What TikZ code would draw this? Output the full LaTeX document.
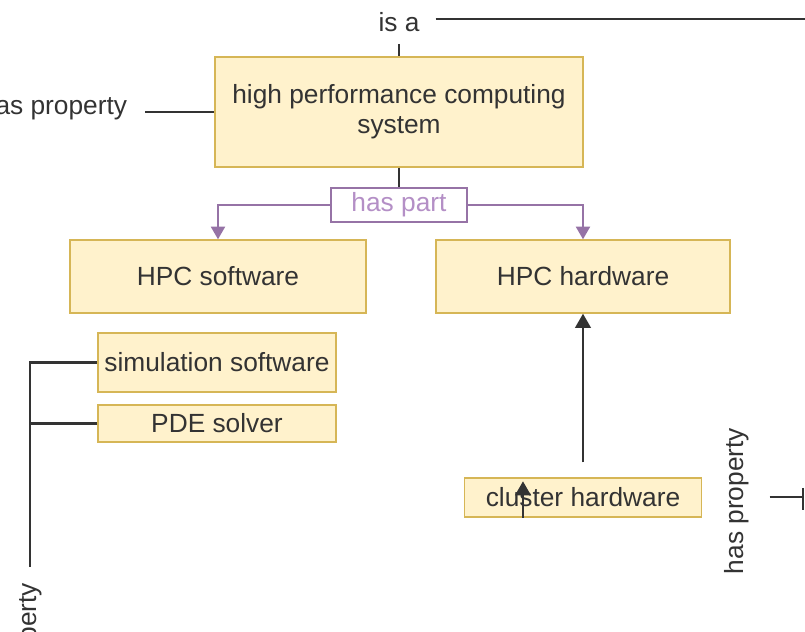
\documentclass[tikz,border=0pt]{standalone}
\usepackage{fontspec}
\setmainfont{Liberation Sans}
\usetikzlibrary{arrows.meta,positioning}
\definecolor{boxfill}{HTML}{FFF2CC}
\definecolor{boxline}{HTML}{D6B656}
\definecolor{partline}{HTML}{9673A6}
\definecolor{parttext}{HTML}{B48FC6}
\definecolor{ink}{HTML}{333333}
\tikzset{
    classbox/.style={
        draw=boxline,
        fill=boxfill,
        line width=1pt,
        text=ink,
        align=center,
        inner sep=0pt
    },
    % text of a relation
    rellabel/.style={
        text=ink,
        inner sep=0pt
    },
    blackline/.style={
        ink,
        line width=1.6pt
    },
    blackarrow/.style={
        ink,
        line width=1.6pt,
        -{Triangle[length=10pt, width=11pt]}
    },
    purplearrow/.style={
        partline,
        line width=1.4pt,
        -{Triangle[length=9pt, width=10pt]}
    }
}

\begin{document}
\begin{tikzpicture}[x=0.025cm,y=-0.025cm,font=\fontsize{18.7pt}{21.5pt}\selectfont]
    \useasboundingbox (0,0) rectangle (805,632);
    \node[classbox, minimum width=9.2cm, minimum height=2.75cm] (sys) at (399,112) {high performance computing\\system};
    \node[classbox, minimum width=7.4cm, minimum height=1.825cm] (sw) at (218,276.5) {HPC software};
    \node[classbox, minimum width=7.35cm, minimum height=1.825cm] (hw) at (583,276.5) {HPC hardware};
    \node[classbox, minimum width=5.95cm, minimum height=1.475cm] (simsw) at (217,362.5) {simulation software};
    \node[classbox, minimum width=5.95cm, minimum height=0.925cm] (pde) at (217,423.5) {PDE solver};
    \node[classbox, minimum width=5.925cm, minimum height=0.975cm] (cluster) at (583,497.5) {cluster hardware};
    \node[draw=partline, fill=white, line width=1.2pt, text=parttext, inner sep=0pt,
          minimum width=3.4cm, minimum height=0.85cm] (haspart) at (399,205) {has part};

    \node[rellabel] (isa) at (399,22) {is a};
    \node[rellabel] (propL) at (54,108) {has property};
    \node[rellabel, rotate=90] (propB) at (30,656) {has property};
    \node[rellabel, rotate=90] (propR) at (737,501) {has property};
    \coordinate (isaend) at (805,19);
    \coordinate (edgeR) at (803,497);

    \draw[blackline] ([xshift=0.4cm]isa.east |- isaend) -- (isaend);
    \draw[blackline] ([yshift=-0.3cm]isa.south) -- (sys.north);
    \draw[blackline] ([xshift=0.45cm]sys.west -| propL.east) -- (sys.west);
    \draw[blackline] (sys.south) -- (haspart.north);
    \draw[purplearrow] (haspart.west) -| (sw.north);
    \draw[purplearrow] (haspart.east) -| (hw.north);
    \draw[blackline] ([yshift=0.4cm]propB.east) |- (simsw.west);
    \draw[blackline] (pde.west) -- (pde.west -| propB.east);
    \draw[blackarrow] ([yshift=0.375cm]cluster.north) -- (hw.south);
    \draw[blackarrow] ([xshift=-1.5cm]cluster.south) -- ([xshift=-1.5cm,yshift=-0.1cm]cluster.north);
    \draw[blackline] ([xshift=0.5cm]edgeR -| propR.south) -- (edgeR);
    \draw[blackline] ([yshift=0.23cm]edgeR) -- ([yshift=-0.33cm]edgeR);
\end{tikzpicture}
\end{document}
